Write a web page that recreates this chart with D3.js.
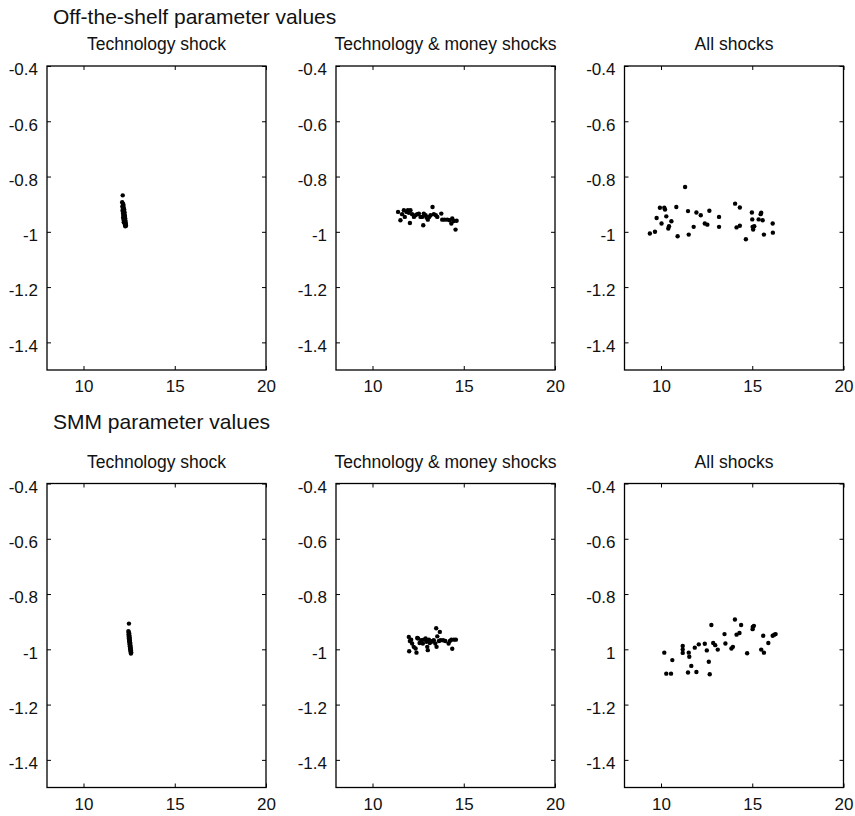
<!DOCTYPE html>
<html>
<head>
<meta charset="utf-8">
<script src="https://cdn.jsdelivr.net/npm/d3@7"></script>
<style>
  html, body { margin: 0; padding: 0; background: #fff; }
  svg { display: block; font-family: "Liberation Sans", Arial, Helvetica, sans-serif; }
</style>
</head>
<body>
<svg id="chart" width="855" height="816"></svg>
<script>
// ---------- data ----------
const rowTitles = ["Off-the-shelf parameter values", "SMM parameter values"];
const panelTitles = ["Technology shock", "Technology & money shocks", "All shocks"];

const xTicks = [10, 15, 20];
const xTickLabels = ["10", "15", "20"];
const yTicks = [-1.4, -1.2, -1, -0.8, -0.6, -0.4];
const yTickLabels = ["-1.4", "-1.2", "-1", "-0.8", "-0.6", "-0.4"];
const yTickLabelsSmmAll = ["-1.4", "-1.2", "1", "-0.8", "-0.6", "-0.4"];
const xDomain = [8, 20];
const yDomain = [-1.5, -0.4];

// Off-the-shelf, technology shock
const offTech = [
  [12.15,-0.868],[12.12,-0.893],[12.16,-0.898],[12.19,-0.903],[12.13,-0.908],[12.20,-0.912],
  [12.16,-0.917],[12.23,-0.920],[12.14,-0.924],[12.21,-0.927],[12.25,-0.930],[12.17,-0.934],
  [12.24,-0.937],[12.19,-0.940],[12.27,-0.943],[12.22,-0.946],[12.17,-0.949],[12.28,-0.951],
  [12.23,-0.954],[12.20,-0.957],[12.30,-0.960],[12.25,-0.962],[12.21,-0.965],[12.31,-0.967],
  [12.26,-0.970],[12.32,-0.972],[12.27,-0.975],[12.33,-0.978],[12.29,-0.980]
];
// Off-the-shelf, technology & money shocks
const offTechMoney = [
  [11.40,-0.928],[11.53,-0.958],[11.62,-0.936],[11.72,-0.922],[11.77,-0.946],[11.86,-0.928],
  [11.94,-0.922],[11.99,-0.931],[12.05,-0.968],[12.08,-0.922],[12.17,-0.936],[12.27,-0.946],
  [12.36,-0.940],[12.45,-0.936],[12.54,-0.934],[12.63,-0.946],[12.72,-0.946],[12.78,-0.976],
  [12.81,-0.934],[12.91,-0.940],[12.96,-0.948],[13.03,-0.956],[13.11,-0.946],[13.18,-0.940],
  [13.29,-0.910],[13.36,-0.936],[13.47,-0.940],[13.55,-0.946],[13.77,-0.934],[13.82,-0.956],
  [13.95,-0.956],[14.10,-0.956],[14.23,-0.958],[14.32,-0.970],[14.37,-0.952],[14.46,-0.961],
  [14.55,-0.992],[14.61,-0.960]
];
// Off-the-shelf, all shocks
const offAll = [
  [9.39,-1.006],[9.67,-1.000],[9.76,-0.950],[9.94,-0.913],[10.03,-0.970],[10.18,-0.913],
  [10.22,-0.919],[10.29,-0.944],[10.40,-0.988],[10.44,-0.980],[10.57,-0.962],[10.84,-0.910],
  [10.91,-1.016],[11.32,-0.838],[11.48,-0.925],[11.52,-1.010],[11.79,-0.982],[11.94,-0.930],
  [12.18,-0.940],[12.40,-0.970],[12.54,-0.974],[12.65,-0.924],[13.18,-0.946],[13.18,-0.982],
  [14.06,-0.898],[14.14,-0.984],[14.32,-0.912],[14.32,-0.978],[14.65,-1.027],[14.98,-0.930],
  [15.00,-0.955],[15.02,-0.982],[15.05,-0.992],[15.11,-0.980],[15.35,-0.955],[15.46,-0.936],
  [15.49,-0.931],[15.57,-0.958],[15.64,-1.010],[16.12,-0.970],[16.13,-1.003]
];
// SMM, technology shock
const smmTech = [
  [12.49,-0.907],[12.46,-0.934],[12.48,-0.938],[12.50,-0.942],[12.47,-0.946],[12.51,-0.949],
  [12.49,-0.953],[12.52,-0.956],[12.48,-0.959],[12.53,-0.962],[12.50,-0.965],[12.54,-0.968],
  [12.51,-0.971],[12.55,-0.974],[12.52,-0.977],[12.56,-0.980],[12.53,-0.983],[12.57,-0.986],
  [12.54,-0.989],[12.58,-0.992],[12.55,-0.995],[12.59,-0.998],[12.56,-1.001],[12.60,-1.004],
  [12.58,-1.008],[12.61,-1.011],[12.60,-1.015]
];
// SMM, technology & money shocks
const smmTechMoney = [
  [11.99,-0.955],[12.01,-1.007],[12.05,-0.970],[12.12,-0.965],[12.17,-0.979],[12.26,-0.991],
  [12.36,-0.997],[12.41,-1.012],[12.45,-0.959],[12.50,-0.961],[12.58,-0.977],[12.67,-0.967],
  [12.76,-0.979],[12.81,-0.965],[12.91,-0.961],[12.96,-0.973],[13.00,-0.991],[13.03,-1.003],
  [13.09,-0.965],[13.14,-0.977],[13.22,-0.973],[13.29,-0.970],[13.36,-0.967],[13.44,-0.979],
  [13.49,-0.924],[13.51,-0.991],[13.55,-0.953],[13.64,-0.970],[13.69,-0.937],[13.73,-0.967],
  [13.87,-0.967],[13.99,-0.970],[14.17,-0.979],[14.24,-0.970],[14.32,-0.965],[14.37,-0.998],
  [14.46,-0.965],[14.57,-0.965]
];
// SMM, all shocks
const smmAll = [
  [10.18,-1.012],[10.29,-1.088],[10.55,-1.088],[10.62,-1.039],[11.19,-0.988],[11.19,-1.001],
  [11.19,-1.013],[11.48,-1.084],[11.52,-1.012],[11.55,-1.027],[11.66,-1.060],[11.85,-0.994],
  [11.94,-1.082],[12.07,-0.982],[12.40,-0.980],[12.51,-1.004],[12.62,-1.045],[12.67,-1.090],
  [12.76,-0.912],[12.86,-0.977],[12.97,-0.985],[13.11,-1.001],[13.48,-0.945],[13.53,-0.979],
  [13.86,-0.997],[13.94,-0.991],[14.05,-0.892],[14.14,-0.947],[14.30,-0.941],[14.39,-0.912],
  [14.72,-1.014],[15.02,-0.927],[15.03,-0.919],[15.09,-0.915],[15.49,-1.001],[15.60,-0.951],
  [15.64,-1.012],[15.88,-0.977],[16.12,-0.951],[16.21,-0.947],[16.28,-0.945]
];

const panelData = [[offTech, offTechMoney, offAll], [smmTech, smmTechMoney, smmAll]];
const panelYLabels = [[yTickLabels, yTickLabels, yTickLabels], [yTickLabels, yTickLabels, yTickLabelsSmmAll]];

// ---------- layout ----------
const svg = d3.select("#chart");
const colLeft = [47, 336, 624.5];
const rowTop = [66, 483.5];
const pw = 219, ph = 304;
const titleY = [24, 429];

rowTitles.forEach((t, r) => {
  svg.append("text").attr("x", 53).attr("y", titleY[r])
    .attr("font-size", 21).attr("fill", "#111").text(t);
});

for (let r = 0; r < 2; r++) {
  for (let c = 0; c < 3; c++) {
    const g = svg.append("g").attr("transform", `translate(${colLeft[c]},${rowTop[r]})`);
    const x = d3.scaleLinear().domain(xDomain).range([0, pw]);
    const y = d3.scaleLinear().domain(yDomain).range([ph, 0]);
    const labels = panelYLabels[r][c];

    g.append("text").attr("x", pw / 2).attr("y", -16)
      .attr("text-anchor", "middle").attr("font-size", 17.5).attr("fill", "#111")
      .text(panelTitles[c]);

    const styleAxis = sel => {
      sel.select(".domain").remove();
      sel.selectAll(".tick line").attr("stroke", "#000").attr("stroke-width", 1);
      sel.selectAll("text").attr("font-size", 17).attr("fill", "#111")
        .attr("font-family", "Liberation Sans, Arial, Helvetica, sans-serif");
    };

    g.append("g").call(d3.axisLeft(y).tickValues(yTicks).tickSize(-4).tickPadding(9)
        .tickFormat((d, i) => labels[i]))
      .call(styleAxis)
      .selectAll("text").attr("dy", "0.52em");
    g.append("g").attr("transform", `translate(${pw},0)`)
      .call(d3.axisRight(y).tickValues(yTicks).tickSize(-4).tickFormat(""))
      .call(styleAxis);
    g.append("g").attr("transform", `translate(0,${ph})`)
      .call(d3.axisBottom(x).tickValues(xTicks).tickSize(-4).tickPadding(10)
        .tickFormat((d, i) => xTickLabels[i]))
      .call(styleAxis);
    g.append("g")
      .call(d3.axisTop(x).tickValues(xTicks).tickSize(-4).tickFormat(""))
      .call(styleAxis);

    g.append("rect").attr("x", 0).attr("y", 0).attr("width", pw).attr("height", ph)
      .attr("fill", "none").attr("stroke", "#000").attr("stroke-width", 1.3);

    g.append("g").selectAll("circle").data(panelData[r][c]).join("circle")
      .attr("cx", d => x(d[0])).attr("cy", d => y(d[1])).attr("r", 2.2)
      .attr("fill", "#000");
  }
}
</script>
</body>
</html>
